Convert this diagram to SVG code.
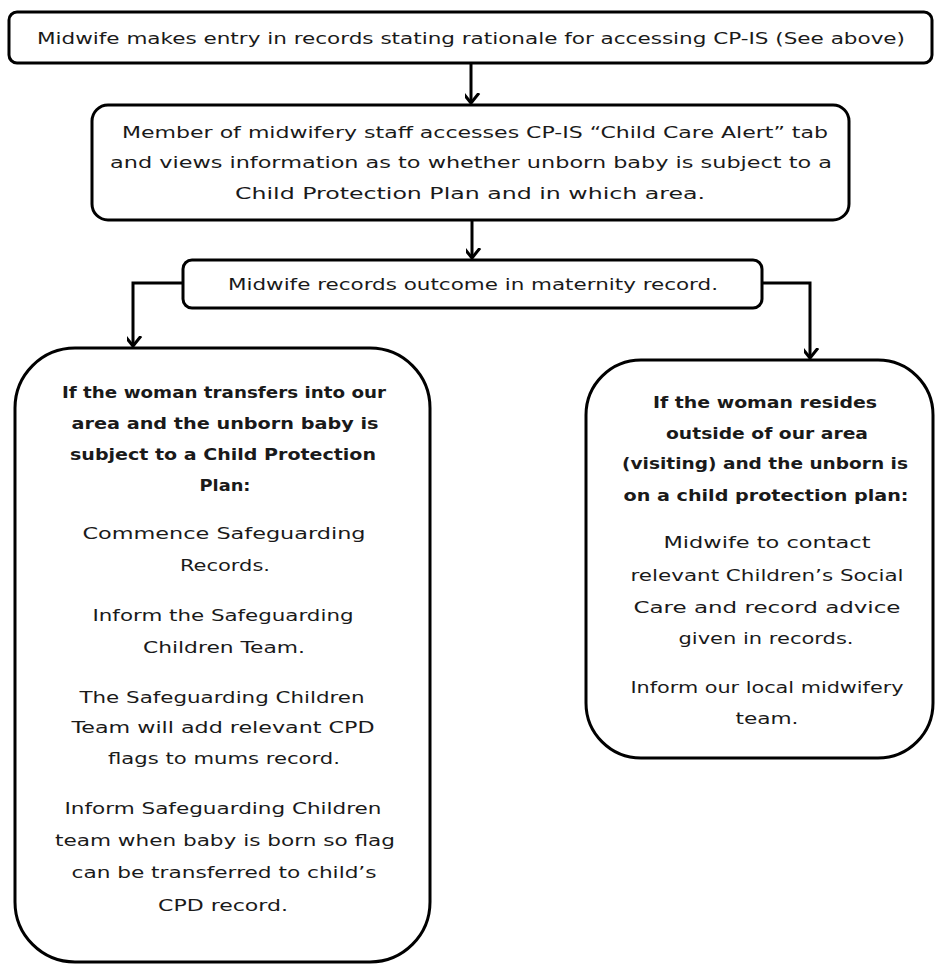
<svg xmlns="http://www.w3.org/2000/svg" width="936" height="965" viewBox="0 0 936 965">
<style>
.box{fill:#fff;stroke:#000;stroke-width:3}
.t{font-family:"DejaVu Sans","Liberation Sans",sans-serif;font-size:16px;fill:#1a1a1a;text-anchor:middle}
.b{font-weight:bold}
.c{fill:none;stroke:#000;stroke-width:3}
</style>
<defs>
<marker id="ah" markerUnits="userSpaceOnUse" markerWidth="20" markerHeight="20" viewBox="-10 -14 20 20" refX="0" refY="0" orient="auto-start-reverse">
<path d="M-8,-10 L0,0 L8,-10" fill="none" stroke="#000" stroke-width="3" transform="rotate(-90)"/>
</marker>
</defs>
<rect width="936" height="965" fill="#fff"/>
<g id="connectors">
<path class="c" d="M471,63 V103" marker-end="url(#ah)"/>
<path class="c" d="M472,220 V258" marker-end="url(#ah)"/>
<path class="c" d="M183,283 H133 V346" marker-end="url(#ah)"/>
<path class="c" d="M762,283 H810 V358" marker-end="url(#ah)"/>
</g>
<g id="n1">
<rect class="box" x="9" y="12" width="923" height="51" rx="8"/>
<text class="t" x="471" y="44" textLength="868" lengthAdjust="spacingAndGlyphs">Midwife makes entry in records stating rationale for accessing CP-IS (See above)</text>
</g>
<g id="n2">
<rect class="box" x="92" y="105" width="757" height="115" rx="16"/>
<text class="t" x="475" y="138" textLength="706" lengthAdjust="spacingAndGlyphs">Member of midwifery staff accesses CP-IS “Child Care Alert” tab</text>
<text class="t" x="471" y="168" textLength="722" lengthAdjust="spacingAndGlyphs">and views information as to whether unborn baby is subject to a</text>
<text class="t" x="470" y="199" textLength="470" lengthAdjust="spacingAndGlyphs">Child Protection Plan and in which area.</text>
</g>
<g id="n3">
<rect class="box" x="183" y="260" width="579" height="48" rx="9"/>
<text class="t" x="473" y="290" textLength="490" lengthAdjust="spacingAndGlyphs">Midwife records outcome in maternity record.</text>
</g>
<g id="n4">
<rect class="box" x="15" y="348" width="415" height="614" rx="60"/>
<text class="t b" x="224" y="398" textLength="324" lengthAdjust="spacingAndGlyphs">If the woman transfers into our</text>
<text class="t b" x="225" y="429" textLength="307" lengthAdjust="spacingAndGlyphs">area and the unborn baby is</text>
<text class="t b" x="223" y="460" textLength="306" lengthAdjust="spacingAndGlyphs">subject to a Child Protection</text>
<text class="t b" x="225" y="491" textLength="51" lengthAdjust="spacingAndGlyphs">Plan:</text>
<text class="t" x="224" y="539" textLength="283" lengthAdjust="spacingAndGlyphs">Commence Safeguarding</text>
<text class="t" x="225" y="571" textLength="90" lengthAdjust="spacingAndGlyphs">Records.</text>
<text class="t" x="223" y="621" textLength="261" lengthAdjust="spacingAndGlyphs">Inform the Safeguarding</text>
<text class="t" x="224" y="653" textLength="162" lengthAdjust="spacingAndGlyphs">Children Team.</text>
<text class="t" x="222" y="703" textLength="285" lengthAdjust="spacingAndGlyphs">The Safeguarding Children</text>
<text class="t" x="223" y="733" textLength="303" lengthAdjust="spacingAndGlyphs">Team will add relevant CPD</text>
<text class="t" x="224" y="764" textLength="232" lengthAdjust="spacingAndGlyphs">flags to mums record.</text>
<text class="t" x="223" y="814" textLength="317" lengthAdjust="spacingAndGlyphs">Inform Safeguarding Children</text>
<text class="t" x="225" y="846" textLength="340" lengthAdjust="spacingAndGlyphs">team when baby is born so flag</text>
<text class="t" x="224" y="878" textLength="305" lengthAdjust="spacingAndGlyphs">can be transferred to child’s</text>
<text class="t" x="223" y="911" textLength="130" lengthAdjust="spacingAndGlyphs">CPD record.</text>
</g>
<g id="n5">
<rect class="box" x="586" y="360" width="347" height="398" rx="55"/>
<text class="t b" x="765" y="408" textLength="224" lengthAdjust="spacingAndGlyphs">If the woman resides</text>
<text class="t b" x="767" y="439" textLength="202" lengthAdjust="spacingAndGlyphs">outside of our area</text>
<text class="t b" x="765" y="469" textLength="286" lengthAdjust="spacingAndGlyphs">(visiting) and the unborn is</text>
<text class="t b" x="766" y="501" textLength="285" lengthAdjust="spacingAndGlyphs">on a child protection plan:</text>
<text class="t" x="767" y="548" textLength="207" lengthAdjust="spacingAndGlyphs">Midwife to contact</text>
<text class="t" x="767" y="581" textLength="273" lengthAdjust="spacingAndGlyphs">relevant Children’s Social</text>
<text class="t" x="767" y="613" textLength="267" lengthAdjust="spacingAndGlyphs">Care and record advice</text>
<text class="t" x="766" y="644" textLength="175" lengthAdjust="spacingAndGlyphs">given in records.</text>
<text class="t" x="767" y="693" textLength="273" lengthAdjust="spacingAndGlyphs">Inform our local midwifery</text>
<text class="t" x="767" y="724" textLength="63" lengthAdjust="spacingAndGlyphs">team.</text>
</g>
</svg>
